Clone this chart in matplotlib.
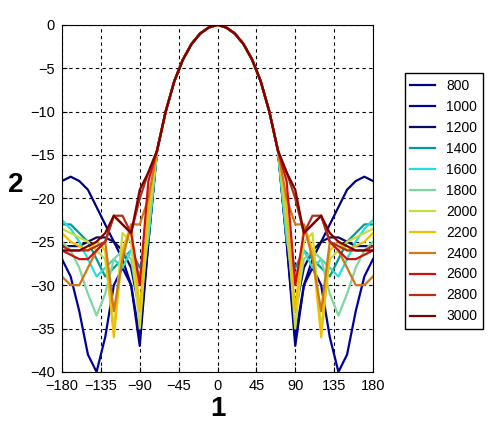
import numpy as np
import matplotlib
matplotlib.use("Agg")
import matplotlib.pyplot as plt

plt.rcParams['font.family'] = ['Liberation Sans', 'DejaVu Sans']

# angles 0..180 step 10 (right half), pattern mirrored for left half
angles = [0, 10, 20, 30, 40, 50, 60, 70, 80, 90, 100, 110, 120, 130, 140, 150, 160, 170, 180]
lobe = [0, -0.3, -1, -2.2, -4, -6.5, -10, -14.5]

labels = ["800", "1000", "1200", "1400", "1600", "1800", "2000", "2200", "2400", "2600", "2800", "3000"]
tails = [
    [-25, -37, -30, -27, -25, -23, -21, -19, -18, -17.5, -18],
    [-25, -36, -30, -28, -30, -36, -40, -38, -33, -29, -27],
    [-24, -33, -28, -26, -25, -24.5, -24.5, -25, -25.5, -25.5, -25.5],
    [-25, -28, -26, -27, -28, -29, -27, -25, -24, -23, -23],
    [-24, -29, -26, -28, -27, -28, -29, -27, -25, -23.5, -22.5],
    [-24, -33, -27, -26, -27, -31, -33.5, -31, -28, -26, -25],
    [-22, -35, -25, -24, -35, -27, -26, -25, -24.5, -24, -23.5],
    [-21, -33, -23, -26, -36, -26, -25, -26, -25.5, -25, -24],
    [-20, -23, -23, -27, -33, -25, -26, -28, -30, -30, -29],
    [-18, -30, -24, -23, -22, -25, -26, -27, -27, -26.5, -26],
    [-17, -20, -24, -22, -22, -25, -25.5, -26, -26, -26, -25.5],
    [-17, -19, -24, -23, -22, -24, -25, -25.5, -26, -26, -26],
]
colors = ["#000080", "#00009a", "#0a0a60", "#009b9b", "#22e0e0", "#7fd6a0",
          "#c8dc3c", "#f0c000", "#d07818", "#d01010", "#b03018", "#800000"]

fig = plt.figure(figsize=(5, 4.28), dpi=100)
ax = fig.add_axes([0.124, 0.131, 0.622, 0.811])

for lab, tail, c in zip(labels, tails, colors):
    half = np.array(lobe + tail)
    a = np.array(angles)
    x = np.concatenate([-a[::-1], a[1:]])
    y = np.concatenate([half[::-1], half[1:]])
    ax.plot(x, y, color=c, lw=1.6, label=lab)

ax.set_xlim(-180, 180)
ax.set_ylim(-40, 0)
ax.set_xticks(np.arange(-180, 181, 45))
ax.set_yticks(np.arange(-40, 1, 5))
ax.grid(True, color="black", linestyle=(0, (3, 3)), lw=0.8)
ax.tick_params(direction="in", labelsize=10.5, pad=5)
ax.set_xlabel("1", fontsize=20, fontweight="bold", labelpad=2)
ax.set_ylabel("2", fontsize=20, fontweight="bold", rotation=0)
ax.yaxis.set_label_coords(-0.15, 0.5)
leg = ax.legend(loc="upper left", bbox_to_anchor=(1.08, 0.88), fontsize=10,
                fancybox=False, framealpha=1, edgecolor="black",
                handlelength=1.8, labelspacing=0.5, borderpad=0.4)
fig.savefig("out.png", dpi=100)
